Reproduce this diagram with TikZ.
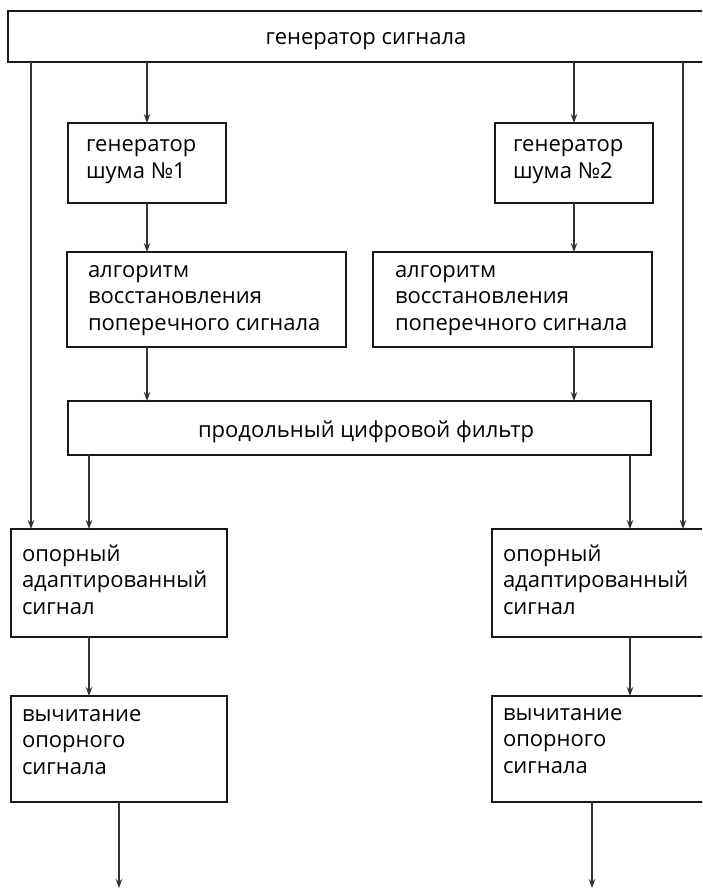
\documentclass[tikz,border=0pt]{standalone}
\usepackage{fontspec}
\setmainfont{Open Sans}
\usetikzlibrary{arrows.meta}
\begin{document}
\begin{tikzpicture}[x=1pt,y=-1pt,
  box/.style={draw=black!90, line width=1.1pt, rectangle, inner sep=0pt, outer sep=0pt},
  arr/.style={draw=black!80, line width=1.1pt, -{Stealth[length=9pt,width=6.5pt]}},
  txt/.style={inner sep=0pt, outer sep=0pt, anchor=north west, align=left, font=\fontsize{22}{26.5}\selectfont},
  ctxt/.style={inner sep=0pt, outer sep=0pt, anchor=base, font=\fontsize{22}{26.5}\selectfont},
  ]
\useasboundingbox (0,0) rectangle (702,890);
\clip (0,0) rectangle (702,890);
\fill[white] (0,0) rectangle (702,890);

% boxes
\node[box, minimum width=716pt, minimum height=51pt] (top) at (366,36.5) {};
\node[box, minimum width=158pt, minimum height=80pt] (n1) at (147,163) {};
\node[box, minimum width=158pt, minimum height=80pt] (n2) at (574,163) {};
\node[box, minimum width=279pt, minimum height=95pt] (a1) at (206.5,299.5) {};
\node[box, minimum width=279pt, minimum height=95pt] (a2) at (512.5,299.5) {};
\node[box, minimum width=583pt, minimum height=54pt] (flt) at (359.5,428) {};
\node[box, minimum width=216pt, minimum height=108pt] (opL) at (119,583) {};
\node[box, minimum width=216pt, minimum height=108pt] (opR) at (600,583) {};
\node[box, minimum width=216pt, minimum height=106pt] (vyL) at (119,749) {};
\node[box, minimum width=216pt, minimum height=106pt] (vyR) at (600,749) {};

% texts
\node[ctxt] (ttop) at (366,45) {генератор сигнала};
\node[ctxt] (tflt) at (366,437) {продольный цифровой фильтр};
\node[txt] (tn1) at (86,132) {\rule{0pt}{20pt}генератор\\шума №1};
\node[txt] (tn2) at (513,132) {\rule{0pt}{20pt}генератор\\шума №2};
\node[txt] (ta1) at (88,257) {\rule{0pt}{20pt}алгоритм\\восстановления\\поперечного сигнала};
\node[txt] (ta2) at (395,257) {\rule{0pt}{20pt}алгоритм\\восстановления\\поперечного сигнала};
\node[txt] (toL) at (22,541) {\rule{0pt}{20pt}опорный\\адаптированный\\сигнал};
\node[txt] (toR) at (503,541) {\rule{0pt}{20pt}опорный\\адаптированный\\сигнал};
\node[txt] (tvL) at (22,701) {\rule{0pt}{20pt}вычитание\\опорного\\сигнала};
\node[txt] (tvR) at (503,700) {\rule{0pt}{20pt}вычитание\\опорного\\сигнала};

% column coordinates
\coordinate (lx) at (31,0);
\coordinate (rx) at (683,0);
\coordinate (fl) at (89,0);
\coordinate (fr) at (630,0);
\coordinate (endL) at (119,888);
\coordinate (endR) at (592,888);

% connectors
\draw[arr] (top.south -| lx) -- (opL.north -| lx);
\draw[arr] (top.south -| rx) -- (opR.north -| rx);
\draw[arr] (top.south -| n1) -- (n1.north);
\draw[arr] (top.south -| n2) -- (n2.north);
\draw[arr] (n1.south) -- (n1.south |- a1.north);
\draw[arr] (n2.south) -- (n2.south |- a2.north);
\draw[arr] (a1.south -| n1) -- (flt.north -| n1);
\draw[arr] (a2.south -| n2) -- (flt.north -| n2);
\draw[arr] (flt.south -| fl) -- (opL.north -| fl);
\draw[arr] (flt.south -| fr) -- (opR.north -| fr);
\draw[arr] (opL.south -| fl) -- (vyL.north -| fl);
\draw[arr] (opR.south -| fr) -- (vyR.north -| fr);
\draw[arr] (vyL.south -| endL) -- (endL);
\draw[arr] (vyR.south -| endR) -- (endR);
\end{tikzpicture}
\end{document}
